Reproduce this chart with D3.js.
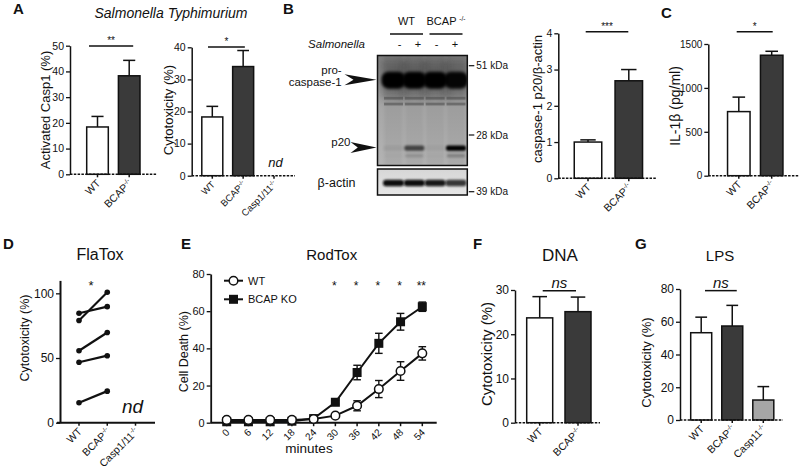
<!DOCTYPE html>
<html><head><meta charset="utf-8">
<script src="https://cdn.jsdelivr.net/npm/d3@7"></script>
<style>
body{margin:0;background:#fff}
svg{display:block}
text{font-family:"Liberation Sans",Arial,Helvetica,sans-serif;fill:#111}
</style>
</head><body>
<svg id="c" width="800" height="472"></svg>
<script>
// ---------------- DATA ----------------
const aCasp1Cats = ["WT", "BCAP-/-"];
const aCasp1Vals = [18.4, 38.3];
const aCasp1Errs = [4.1, 6.0];

const aCytoCats = ["WT", "BCAP-/-", "Casp1/11-/-"];
const aCytoVals = [18.3, 34.0, null];
const aCytoErrs = [3.3, 5.0, null];

const bCats = ["WT", "BCAP-/-"];
const bVals = [1.0, 2.69];
const bErrs = [0.06, 0.31];

const cCats = ["WT", "BCAP-/-"];
const cVals = [730, 1372];
const cErrs = [165, 45];

const dCats = ["WT", "BCAP-/-", "Casp1/11-/-"];
const dWT = [84.6, 79.0, 55.6, 46.7, 15.4];
const dBCAP = [89.7, 100.8, 69.7, 51.8, 24.4];

const eMinutes = [0, 6, 12, 18, 24, 30, 36, 42, 48, 54];
const eWT = [1.5, 1.5, 1.5, 1.5, 2.0, 3.8, 9.1, 18.1, 27.8, 37.3];
const eWTErr = [0.3, 0.3, 0.3, 0.3, 0.4, 0.8, 2.7, 4.6, 5.0, 3.6];
const eKO = [0.5, 0.5, 0.5, 0.8, 2.2, 11.0, 27.0, 42.7, 54.3, 62.4];
const eKOErr = [0.3, 0.3, 0.3, 0.3, 0.5, 1.0, 3.9, 5.4, 4.5, 2.5];
const eSig = ["", "", "", "", "", "*", "*", "*", "*", "**"];

const fCats = ["WT", "BCAP-/-"];
const fVals = [23.7, 25.1];
const fErrs = [4.8, 3.3];

const gCats = ["WT", "BCAP-/-", "Casp11-/-"];
const gVals = [53.3, 57.4, 12.2];
const gErrs = [9.5, 12.6, 8.2];

const blotGenotypes = ["WT", "BCAP-/-"];
const blotLanes = ["-", "+", "-", "+"];
const blotProCasp = [1, 1, 1, 0.95];
const blotP20 = [0.06, 0.6, 0.04, 1.0];
const blotActin = [1, 1, 0.95, 0.8];
const blotMarkersKDa = [51, 28];
const actinMarkerKDa = 39;
const bandKDa = { procasp: 45, doublet1: 38.5, doublet2: 36.6, p20: 25, p20sub: 23.4 };

// ---------------- HELPERS ----------------
const svg = d3.select("#c");
const INK = "#111";
const WHITE = "#ffffff", DARK = "#3a3a3a", GREY = "#a6a6a6";

function drawYAxis(g, y, x, ticks, fs, sw) {
  const ax = g.append("g").attr("transform", `translate(${x},0)`)
    .call(d3.axisLeft(y).tickValues(ticks).tickFormat(d3.format("d")).tickSize(4).tickSizeOuter(0).tickPadding(2));
  ax.attr("font-family", null).attr("font-size", null);
  ax.select(".domain").attr("stroke", INK).attr("stroke-width", sw || 1.5);
  ax.selectAll(".tick line").attr("stroke", INK).attr("stroke-width", 1.3);
  ax.selectAll(".tick text").attr("font-size", fs).attr("fill", INK);
  return ax;
}

function rotLabel(g, x, y, name, fs) {
  const t = g.append("text").attr("transform", `translate(${x},${y}) rotate(-45)`)
    .attr("text-anchor", "end").attr("font-size", fs);
  const m = name.match(/^(.*?)(-\/-)$/);
  if (m) {
    t.append("tspan").attr("dy", "0.35em").text(m[1]);
    t.append("tspan").attr("font-size", fs * 0.6).attr("dy", -fs * 0.38).text(m[2]);
  } else {
    t.append("tspan").attr("dy", "0.35em").text(name);
  }
}

function yLabel(g, x, y, txt, fs) {
  g.append("text").attr("transform", `translate(${x},${y}) rotate(-90)`)
    .attr("text-anchor", "middle").attr("dy", "0.35em").attr("font-size", fs).text(txt);
}

function sigBar(g, x1, x2, yy, txt, fs, italic) {
  g.append("line").attr("x1", x1).attr("x2", x2).attr("y1", yy).attr("y2", yy)
    .attr("stroke", INK).attr("stroke-width", 1.5);
  const t = g.append("text").attr("x", (x1 + x2) / 2).attr("text-anchor", "middle")
    .attr("font-size", fs).text(txt);
  if (italic) t.attr("font-style", "italic").attr("y", yy - 2.5);
  else t.attr("y", yy - 1.5);
}

function panelLetter(x, y, l) {
  svg.append("text").attr("x", x).attr("y", y).attr("font-size", 15)
    .attr("font-weight", "bold").text(l);
}
function title(x, y, t, fs, italic) {
  const e = svg.append("text").attr("x", x).attr("y", y).attr("text-anchor", "middle")
    .attr("font-size", fs).text(t);
  if (italic) e.attr("font-style", "italic");
}

function barPanel(o) {
  const g = svg.append("g");
  const y = d3.scaleLinear().domain(o.yDomain).range(o.yRange);
  const x = d3.scalePoint().domain(o.cats).range(o.xRange);
  const y0 = y(0);
  const rows = o.cats.map((c, i) => ({ c, v: o.vals[i], e: o.errs[i], f: o.fills[i] }))
    .filter(d => d.v != null);
  g.selectAll("line.eb").data(rows).join("line").attr("class", "eb")
    .attr("x1", d => x(d.c)).attr("x2", d => x(d.c))
    .attr("y1", d => y(d.v)).attr("y2", d => y(d.v + d.e))
    .attr("stroke", INK).attr("stroke-width", 1.5);
  g.selectAll("line.cap").data(rows).join("line").attr("class", "cap")
    .attr("x1", d => x(d.c) - o.barW * 0.28).attr("x2", d => x(d.c) + o.barW * 0.28)
    .attr("y1", d => y(d.v + d.e)).attr("y2", d => y(d.v + d.e))
    .attr("stroke", INK).attr("stroke-width", 1.5);
  g.selectAll("rect.bar").data(rows).join("rect").attr("class", "bar")
    .attr("x", d => x(d.c) - o.barW / 2).attr("width", o.barW)
    .attr("y", d => y(d.v)).attr("height", d => y0 - y(d.v))
    .attr("fill", d => d.f).attr("stroke", INK).attr("stroke-width", 1.5);
  g.append("line").attr("x1", o.axisX).attr("x2", o.axisEnd).attr("y1", y0).attr("y2", y0)
    .attr("stroke", INK).attr("stroke-width", 1.4).attr("stroke-dasharray", "2.5,1.3");
  g.selectAll("line.xt").data(o.cats).join("line").attr("class", "xt")
    .attr("x1", d => x(d)).attr("x2", d => x(d)).attr("y1", y0).attr("y2", y0 + 3)
    .attr("stroke", INK).attr("stroke-width", 1.5);
  drawYAxis(g, y, o.axisX, o.ticks, o.tickFs);
  o.cats.forEach(c => rotLabel(g, x(c) + 1, y0 + 7, c, o.catFs));
  yLabel(g, o.ylab.x, o.ylab.y, o.ylab.t, o.ylab.fs);
  if (o.sig) {
    const s = o.sig;
    sigBar(g, x(s.from) + s.p1, x(s.to) + s.p2, y(s.level), s.t, s.fs, s.italic);
  }
  return { g, x, y };
}

// ---------------- PANEL A ----------------
panelLetter(13, 14, "A");
title(171, 18, "Salmonella Typhimurium", 14, true);

barPanel({
  cats: aCasp1Cats, vals: aCasp1Vals, errs: aCasp1Errs, fills: [WHITE, DARK],
  yDomain: [0, 50], yRange: [174.3, 45.7], xRange: [97.5, 129.2], ticks: [0, 10, 20, 30, 40, 50],
  axisX: 70, axisEnd: 157, barW: 21.6, tickFs: 10.5, catFs: 10.5,
  ylab: { x: 45, y: 110, t: "Activated Casp1 (%)", fs: 13 },
  sig: { from: "WT", to: "BCAP-/-", p1: -8.5, p2: 4, level: 49.9, t: "**", fs: 10 }
});

const aCyto = barPanel({
  cats: aCytoCats, vals: aCytoVals, errs: aCytoErrs, fills: [WHITE, DARK, WHITE],
  yDomain: [0, 40], yRange: [175.7, 47.3], xRange: [212.3, 274], ticks: [0, 10, 20, 30, 40],
  axisX: 191.7, axisEnd: 295, barW: 21, tickFs: 10.5, catFs: 9.5,
  ylab: { x: 168.3, y: 110, t: "Cytotoxicity (%)", fs: 13 },
  sig: { from: "WT", to: "BCAP-/-", p1: -4.3, p2: 1.7, level: 40.1, t: "*", fs: 10 }
});
aCyto.g.append("text").attr("x", aCyto.x("Casp1/11-/-") + 1.5).attr("y", aCyto.y(0) - 9)
  .attr("text-anchor", "middle").attr("font-style", "italic").attr("font-size", 13).text("nd");

// ---------------- PANEL B (blot) ----------------
panelLetter(283, 14, "B");
const defs = svg.append("defs");
[["bl4", 4], ["bl2", 1.6], ["bl1", 1.0], ["bl07", 0.7]].forEach(([id, s]) => {
  defs.append("filter").attr("id", id).attr("x", "-50%").attr("y", "-50%").attr("width", "200%").attr("height", "200%")
    .append("feGaussianBlur").attr("stdDeviation", s);
});
const grad = defs.append("linearGradient").attr("id", "blotbg").attr("x1", 0).attr("x2", 0).attr("y1", 0).attr("y2", 1);
grad.append("stop").attr("offset", "0%").attr("stop-color", "#808080");
grad.append("stop").attr("offset", "35%").attr("stop-color", "#a3a3a3");
grad.append("stop").attr("offset", "100%").attr("stop-color", "#b4b4b4");
const grad2 = defs.append("linearGradient").attr("id", "actbg").attr("x1", 0).attr("x2", 0).attr("y1", 0).attr("y2", 1);
grad2.append("stop").attr("offset", "0%").attr("stop-color", "#d6d6d6");
grad2.append("stop").attr("offset", "100%").attr("stop-color", "#e6e6e6");

const box = { x0: 377.5, x1: 467.3, y0: 55.5, y1: 165.5 };
const abox = { y0: 169, y1: 195 };
defs.append("clipPath").attr("id", "clipBlot").append("rect")
  .attr("x", box.x0).attr("y", box.y0).attr("width", box.x1 - box.x0).attr("height", box.y1 - box.y0);
defs.append("clipPath").attr("id", "clipAct").append("rect")
  .attr("x", box.x0).attr("y", abox.y0).attr("width", box.x1 - box.x0).attr("height", abox.y1 - abox.y0);

const lane = d3.scalePoint().domain(d3.range(blotLanes.length)).range([393.5, 456]);
const kda = d3.scaleLog().domain([51, 28]).range([65.7, 135]);
const blot = svg.append("g");
const inner = blot.append("g").attr("clip-path", "url(#clipBlot)");
inner.append("rect").attr("x", box.x0).attr("y", box.y0).attr("width", box.x1 - box.x0)
  .attr("height", box.y1 - box.y0).attr("fill", "url(#blotbg)");
const laneIdx = d3.range(blotLanes.length);
inner.selectAll("rect.smear").data(laneIdx).join("rect")
  .attr("x", i => lane(i) - 9).attr("width", 18).attr("y", box.y0).attr("height", box.y1 - box.y0)
  .attr("fill", "#000").attr("opacity", 0.05).attr("filter", "url(#bl2)");
inner.selectAll("rect.haze").data(laneIdx).join("rect")
  .attr("x", i => lane(i) - 13).attr("width", 26).attr("y", kda(bandKDa.procasp) - 20).attr("height", 38)
  .attr("fill", "#222").attr("opacity", i => 0.35 * blotProCasp[i]).attr("filter", "url(#bl4)");
inner.selectAll("rect.pc").data(laneIdx).join("rect")
  .attr("x", i => lane(i) - 12).attr("width", 24).attr("y", kda(bandKDa.procasp) - 8.5).attr("height", 17)
  .attr("rx", 7).attr("fill", "#040404").attr("opacity", i => blotProCasp[i]).attr("filter", "url(#bl2)");
["doublet1", "doublet2"].forEach(k => {
  inner.selectAll("rect." + k).data(laneIdx).join("rect")
    .attr("x", i => lane(i) - 9.5).attr("width", 19).attr("y", kda(bandKDa[k]) - 1.4).attr("height", 2.8)
    .attr("fill", "#4a4a4a").attr("opacity", 0.55).attr("filter", "url(#bl07)");
});
inner.selectAll("rect.p20").data(laneIdx).join("rect")
  .attr("x", i => lane(i) - 10).attr("width", 20).attr("y", kda(bandKDa.p20) - 2.6).attr("height", 5.2)
  .attr("rx", 2).attr("fill", "#050505").attr("opacity", i => blotP20[i]).attr("filter", "url(#bl1)");
inner.selectAll("rect.p20s").data(laneIdx).join("rect")
  .attr("x", i => lane(i) - 9).attr("width", 18).attr("y", kda(bandKDa.p20sub) - 1.5).attr("height", 3)
  .attr("fill", "#333").attr("opacity", i => blotP20[i] * 0.35).attr("filter", "url(#bl1)");
blot.append("rect").attr("x", box.x0).attr("y", box.y0).attr("width", box.x1 - box.x0)
  .attr("height", box.y1 - box.y0).attr("fill", "none").attr("stroke", INK).attr("stroke-width", 1.5);
const act = blot.append("g").attr("clip-path", "url(#clipAct)");
act.append("rect").attr("x", box.x0).attr("y", abox.y0).attr("width", box.x1 - box.x0)
  .attr("height", abox.y1 - abox.y0).attr("fill", "url(#actbg)");
act.selectAll("rect.ac").data(laneIdx).join("rect")
  .attr("x", i => lane(i) - 10.5).attr("width", 21).attr("y", (abox.y0 + abox.y1) / 2 + 1 - 3.2).attr("height", 6.4)
  .attr("rx", 3).attr("fill", "#0a0a0a").attr("opacity", i => blotActin[i]).attr("filter", "url(#bl1)");
blot.append("rect").attr("x", box.x0).attr("y", abox.y0).attr("width", box.x1 - box.x0)
  .attr("height", abox.y1 - abox.y0).attr("fill", "none").attr("stroke", INK).attr("stroke-width", 1.5);
blotMarkersKDa.forEach(k => {
  blot.append("line").attr("x1", box.x1 + 1.5).attr("x2", box.x1 + 7).attr("y1", kda(k)).attr("y2", kda(k)).attr("stroke", INK).attr("stroke-width", 1.2);
  blot.append("text").attr("x", box.x1 + 9).attr("y", kda(k)).attr("dy", "0.35em").attr("font-size", 10).text(k + " kDa");
});
blot.append("line").attr("x1", box.x1 + 1.5).attr("x2", box.x1 + 7).attr("y1", abox.y1 - 3.3).attr("y2", abox.y1 - 3.3).attr("stroke", INK).attr("stroke-width", 1.2);
blot.append("text").attr("x", box.x1 + 9).attr("y", abox.y1 - 3.3).attr("dy", "0.35em").attr("font-size", 10).text(actinMarkerKDa + " kDa");
const gen = d3.scalePoint().domain(blotGenotypes).range([406.5, 446]);
blotGenotypes.forEach(gn => {
  const t = blot.append("text").attr("x", gen(gn)).attr("y", 25).attr("text-anchor", "middle").attr("font-size", 11);
  const m = gn.match(/^(.*?)(-\/-)$/);
  if (m) { t.append("tspan").text(m[1] + " "); t.append("tspan").attr("font-size", 6.5).attr("dy", -4).text(m[2]); }
  else t.text(gn);
  blot.append("line").attr("x1", gen(gn) - 16.5).attr("x2", gen(gn) + 16.5).attr("y1", 34).attr("y2", 34).attr("stroke", INK).attr("stroke-width", 1.4);
});
const sign = d3.scalePoint().domain(d3.range(blotLanes.length)).range([399.5, 455]);
blot.append("text").attr("x", 365).attr("y", 48).attr("text-anchor", "end").attr("font-size", 11.5).attr("font-style", "italic").text("Salmonella");
blot.selectAll("text.sign").data(laneIdx).join("text").attr("class", "sign")
  .attr("x", i => sign(i)).attr("y", 48).attr("text-anchor", "middle").attr("font-size", 11).text(i => blotLanes[i]);
blot.append("text").attr("x", 341.7).attr("y", 74).attr("text-anchor", "end").attr("font-size", 11.5).text("pro-");
blot.append("text").attr("x", 341.7).attr("y", 86).attr("text-anchor", "end").attr("font-size", 11.5).text("caspase-1");
blot.append("text").attr("x", 350.5).attr("y", 146).attr("text-anchor", "end").attr("font-size", 11.5).text("p20");
blot.append("text").attr("x", 336.5).attr("y", 186.5).attr("text-anchor", "middle").attr("font-size", 12.5).text("β-actin");
function arrow(tipX, yy, len) {
  const b = tipX - len;
  blot.append("path").attr("d", `M${tipX},${yy} L${b},${yy - 5.5} L${b + len * 0.28},${yy} L${b},${yy + 5.5} Z`).attr("fill", INK);
}
arrow(376.5, kda(bandKDa.procasp) - 0.5, 32);
arrow(376.5, kda(bandKDa.p20) - 0.5, 26);

barPanel({
  cats: bCats, vals: bVals, errs: bErrs, fills: [WHITE, DARK],
  yDomain: [0, 4], yRange: [178.3, 33.3], xRange: [588, 628.8], ticks: [0, 1, 2, 3, 4],
  axisX: 558.3, axisEnd: 656.7, barW: 27.5, tickFs: 10.5, catFs: 10.5,
  ylab: { x: 537, y: 99, t: "caspase-1 p20/β-actin", fs: 13 },
  sig: { from: "WT", to: "BCAP-/-", p1: -2.3, p2: -0.5, level: 4.04, t: "***", fs: 10 }
});

// ---------------- PANEL C ----------------
panelLetter(661, 18, "C");
barPanel({
  cats: cCats, vals: cVals, errs: cErrs, fills: [WHITE, DARK],
  yDomain: [0, 1500], yRange: [175.7, 44], xRange: [738.8, 771.7], ticks: [0, 500, 1000, 1500],
  axisX: 708.3, axisEnd: 799, barW: 22.5, tickFs: 10, catFs: 10.5,
  ylab: { x: 675, y: 106, t: "IL-1β (pg/ml)", fs: 14 },
  sig: { from: "WT", to: "BCAP-/-", p1: -2.1, p2: 1, level: 1640, t: "*", fs: 10 }
});

// ---------------- PANEL D ----------------
panelLetter(3, 249, "D");
title(100, 260, "FlaTox", 16);
{
  const g = svg.append("g");
  const x = d3.scalePoint().domain(dCats).range([79, 135.5]);
  const y = d3.scaleLinear().domain([0, 110]).range([422.7, 280.4]);
  const pairs = dWT.map((w, i) => [w, dBCAP[i]]);
  g.selectAll("line.pair").data(pairs).join("line")
    .attr("x1", x("WT")).attr("x2", x("BCAP-/-")).attr("y1", d => y(d[0])).attr("y2", d => y(d[1]))
    .attr("stroke", INK).attr("stroke-width", 2.2);
  const pts = [];
  pairs.forEach(p => { pts.push([x("WT"), y(p[0])]); pts.push([x("BCAP-/-"), y(p[1])]); });
  g.selectAll("circle").data(pts).join("circle").attr("cx", d => d[0]).attr("cy", d => d[1]).attr("r", 2.8).attr("fill", INK);
  g.append("line").attr("x1", 57).attr("x2", 155).attr("y1", y(0)).attr("y2", y(0)).attr("stroke", INK).attr("stroke-width", 2);
  g.selectAll("line.xt").data(dCats).join("line").attr("x1", d => x(d)).attr("x2", d => x(d)).attr("y1", y(0)).attr("y2", y(0) + 3).attr("stroke", INK).attr("stroke-width", 1.5);
  drawYAxis(g, y, 60, [0, 50, 100], 12, 2);
  dCats.forEach(c => rotLabel(g, x(c) + 1, y(0) + 7, c, 10.5));
  yLabel(g, 25, 338, "Cytotoxicity (%)", 12.5);
  g.append("text").attr("x", (x("WT") + x("BCAP-/-")) / 2 - 2).attr("y", 290).attr("text-anchor", "middle").attr("font-size", 13).text("*");
  g.append("text").attr("x", x("Casp1/11-/-") - 3).attr("y", 413).attr("text-anchor", "middle").attr("font-size", 19).attr("font-style", "italic").text("nd");
}

// ---------------- PANEL E ----------------
panelLetter(181, 249, "E");
title(331.7, 260, "RodTox", 15);
{
  const g = svg.append("g");
  const x = d3.scaleLinear().domain([0, 54]).range([226.7, 422.3]);
  const y = d3.scaleLinear().domain([0, 80]).range([422.7, 274]);
  const wt = eMinutes.map((m, i) => ({ m, v: eWT[i], e: eWTErr[i] }));
  const ko = eMinutes.map((m, i) => ({ m, v: eKO[i], e: eKOErr[i] }));
  const line = d3.line().x(d => x(d.m)).y(d => y(d.v));
  g.append("line").attr("x1", 210.7).attr("x2", 436.7).attr("y1", y(0)).attr("y2", y(0)).attr("stroke", INK).attr("stroke-width", 2);
  g.selectAll("line.xt").data(eMinutes).join("line").attr("x1", d => x(d)).attr("x2", d => x(d)).attr("y1", y(0)).attr("y2", y(0) + 3.5).attr("stroke", INK).attr("stroke-width", 1.5);
  drawYAxis(g, y, 210.7, [0, 20, 40, 60, 80], 11, 1.8);
  [ko, wt].forEach(s => {
    g.append("path").datum(s).attr("d", line).attr("fill", "none").attr("stroke", INK).attr("stroke-width", 2);
    const eb = s.filter(d => d.e > 0.6);
    g.selectAll(null).data(eb).join("line").attr("x1", d => x(d.m)).attr("x2", d => x(d.m))
      .attr("y1", d => y(d.v - d.e)).attr("y2", d => y(d.v + d.e)).attr("stroke", INK).attr("stroke-width", 1.4);
    [-1, 1].forEach(sg => {
      g.selectAll(null).data(eb).join("line").attr("x1", d => x(d.m) - 3.8).attr("x2", d => x(d.m) + 3.8)
        .attr("y1", d => y(d.v + sg * d.e)).attr("y2", d => y(d.v + sg * d.e)).attr("stroke", INK).attr("stroke-width", 1.4);
    });
  });
  g.selectAll("rect.ko").data(ko).join("rect").attr("x", d => x(d.m) - 4.5).attr("y", d => y(d.v) - 4.5)
    .attr("width", 9).attr("height", 9).attr("fill", INK);
  g.selectAll("circle.wt").data(wt).join("circle").attr("cx", d => x(d.m)).attr("cy", d => y(d.v))
    .attr("r", 4.3).attr("fill", "#fff").attr("stroke", INK).attr("stroke-width", 1.5);
  eMinutes.forEach(m => rotLabel(g, x(m) + 1, y(0) + 8, String(m), 10));
  g.append("text").attr("x", 309).attr("y", 453).attr("text-anchor", "middle").attr("font-size", 13.5).text("minutes");
  yLabel(g, 183.3, 351.7, "Cell Death (%)", 12.5);
  g.selectAll("text.sig").data(eMinutes.map((m, i) => ({ m, s: eSig[i] })).filter(d => d.s)).join("text")
    .attr("x", d => x(d.m) - 1).attr("y", 290).attr("text-anchor", "middle").attr("font-size", 12).text(d => d.s);
  const leg = [{ t: "WT", y: 280.7, k: "wt" }, { t: "BCAP KO", y: 299.3, k: "ko" }];
  leg.forEach(l => {
    g.append("line").attr("x1", 224).attr("x2", 243).attr("y1", l.y).attr("y2", l.y).attr("stroke", INK).attr("stroke-width", 2);
    if (l.k === "wt") g.append("circle").attr("cx", 233.5).attr("cy", l.y).attr("r", 4.3).attr("fill", "#fff").attr("stroke", INK).attr("stroke-width", 1.5);
    else g.append("rect").attr("x", 229).attr("y", l.y - 4.5).attr("width", 9).attr("height", 9).attr("fill", INK);
    g.append("text").attr("x", 248).attr("y", l.y).attr("dy", "0.35em").attr("font-size", 11).text(l.t);
  });
}

// ---------------- PANEL F ----------------
panelLetter(473, 249, "F");
title(560, 261, "DNA", 17);
barPanel({
  cats: fCats, vals: fVals, errs: fErrs, fills: [WHITE, DARK],
  yDomain: [0, 30], yRange: [422.7, 290], xRange: [539.7, 578], ticks: [0, 10, 20, 30],
  axisX: 515, axisEnd: 600, barW: 26, tickFs: 12, catFs: 10.5,
  ylab: { x: 486.7, y: 354, t: "Cytotoxicity (%)", fs: 15 },
  sig: { from: "WT", to: "BCAP-/-", p1: 3, p2: -2, level: 29.85, t: "ns", fs: 15, italic: true }
});

// ---------------- PANEL G ----------------
panelLetter(635, 249, "G");
title(720, 261, "LPS", 15);
barPanel({
  cats: gCats, vals: gVals, errs: gErrs, fills: [WHITE, DARK, GREY],
  yDomain: [0, 80], yRange: [420, 289], xRange: [701.2, 763.3], ticks: [0, 20, 40, 60, 80],
  axisX: 680, axisEnd: 783, barW: 21, tickFs: 12, catFs: 10.5,
  ylab: { x: 646.7, y: 362.5, t: "Cytotoxicity (%)", fs: 13 },
  sig: { from: "WT", to: "BCAP-/-", p1: 3.8, p2: 4.5, level: 79, t: "ns", fs: 15, italic: true }
});
</script>
</body></html>
